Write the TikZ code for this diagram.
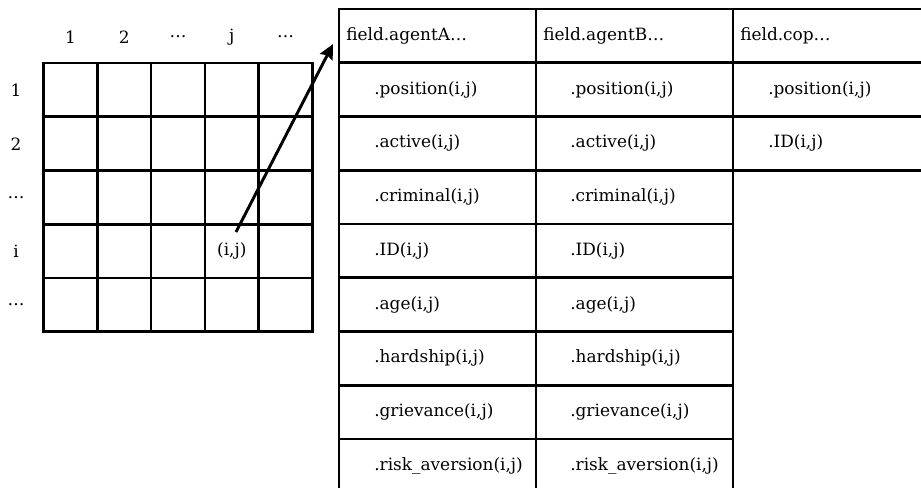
\documentclass[tikz,border=0pt]{standalone}
\usepackage{fontspec}
\setmainfont{DejaVu Serif}
\usetikzlibrary{arrows.meta,calc}

% one unit of the picture is 0.75pt; node sizes below are given in pt
\tikzset{
  rule/.style={line width=2pt},
  gridcell/.style={rule, draw, rectangle, minimum width=40.35pt, minimum height=40.31pt,
    inner sep=0pt, outer sep=0pt, anchor=north west},
  tabcell/.style={rule, draw, rectangle, minimum width=147.75pt, minimum height=40.31pt,
    inner sep=0pt, outer sep=0pt, anchor=north west},
  widecell/.style={tabcell, minimum width=180pt},
  label/.style={font=\fontsize{12.7}{15}\selectfont, inner sep=0pt},
  entry/.style={label, anchor=west},
  pointer/.style={line width=2.2pt, -{Stealth[length=11pt, width=10.5pt, inset=1.5pt]}},
}

\begin{document}
\begin{tikzpicture}[x=0.75pt, y=-0.75pt]
  \useasboundingbox (0,0) rectangle (921,488);
  \clip (0,0) rectangle (921,488);

  % lattice of cells with its index labels
  \foreach \r in {1,...,5}{
    \foreach \c in {1,...,5}{
      \node[gridcell] (g-\r-\c) at ({43.5+53.8*(\c-1)}, {63+53.75*(\r-1)}) {};
    }
  }
  \foreach \c/\t in {1/1, 2/2, 3/\dots, 4/j, 5/\dots}{
    \node[label] (col-\c) at ({70.4+53.8*(\c-1)}, 37) {\t};
  }
  \foreach \r/\t in {1/1, 2/2, 3/\dots, 4/i, 5/\dots}{
    \node[label] (row-\r) at (16, {90+53.75*(\r-1)}) {\t};
  }
  \node[label] (ij) at (g-4-4.center) {(i,j)};

  % record table of the agent fields
  \node[tabcell] (hA) at (339, 9) {};
  \node[tabcell] (hB) at (536, 9) {};
  \node[widecell] (hC) at (733, 9) {};
  \node[entry] at ($(hA.west)+(7,0)$) {field.agentA\dots};
  \node[entry] at ($(hB.west)+(7,0)$) {field.agentB\dots};
  \node[entry] at ($(hC.west)+(7,0)$) {field.cop\dots};

  \foreach \k/\t in {1/position, 2/active, 3/criminal, 4/ID, 5/age, 6/hardship,
                     7/grievance, 8/risk\_aversion}{
    \node[tabcell] (a-\k) at (339, {9+53.75*\k}) {};
    \node[tabcell] (b-\k) at (536, {9+53.75*\k}) {};
    \node[entry] at ($(a-\k.west)+(35,0)$) {.\t(i,j)};
    \node[entry] at ($(b-\k.west)+(34,0)$) {.\t(i,j)};
  }
  \foreach \k/\t in {1/position, 2/ID}{
    \node[widecell] (c-\k) at (733, {9+53.75*\k}) {};
    \node[entry] at ($(c-\k.west)+(35,0)$) {.\t(i,j)};
  }

  % link from the lattice cell to its record
  \coordinate (tail) at (236, 232);
  \coordinate (head) at (333, 44);
  \draw[pointer] (tail) -- (head);
\end{tikzpicture}
\end{document}
